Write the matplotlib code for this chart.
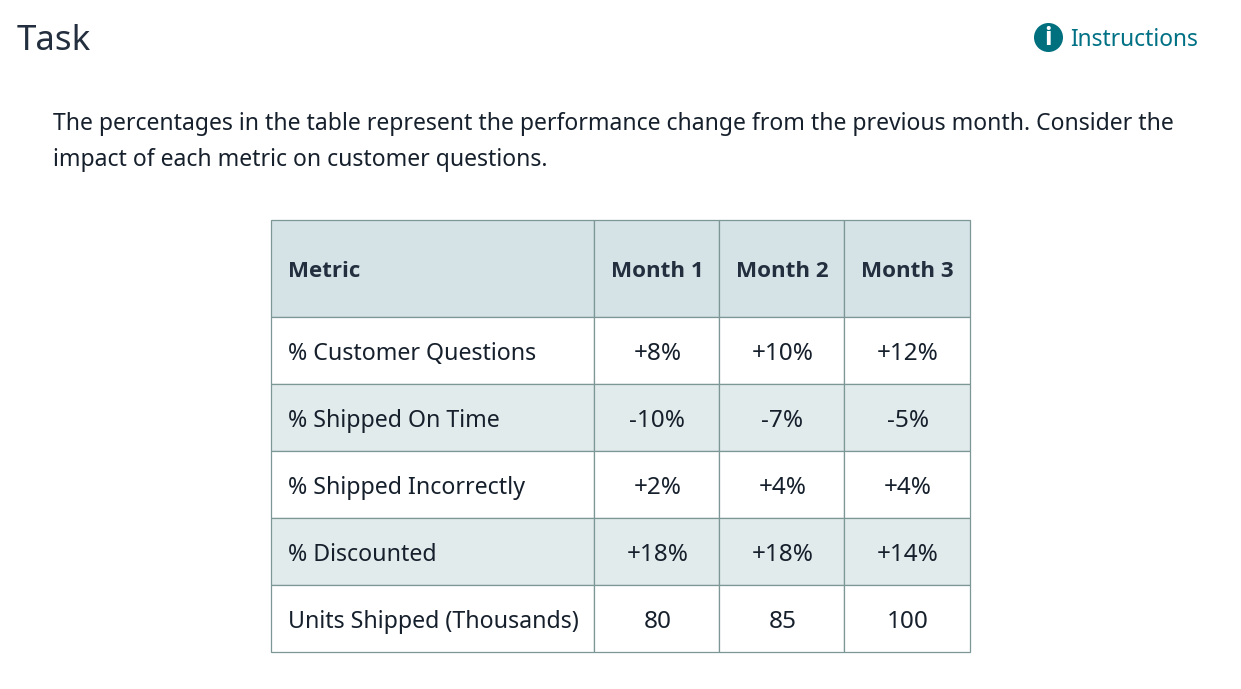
import matplotlib
matplotlib.use('Agg')
import matplotlib.pyplot as plt
from matplotlib.patches import Rectangle, Circle

plt.rcParams['font.family'] = ['Noto Sans', 'DejaVu Sans']

# data
columns = ['Metric', 'Month 1', 'Month 2', 'Month 3']
metrics = ['% Customer Questions', '% Shipped On Time', '% Shipped Incorrectly',
           '% Discounted', 'Units Shipped (Thousands)']
month1 = ['+8%', '-10%', '+2%', '+18%', '80']
month2 = ['+10%', '-7%', '+4%', '+18%', '85']
month3 = ['+12%', '-5%', '+4%', '+14%', '100']

title = 'Task'
link = 'Instructions'
intro1 = 'The percentages in the table represent the performance change from the previous month. Consider the'
intro2 = 'impact of each metric on customer questions.'

W, H = 1241, 689
fig = plt.figure(figsize=(W / 100, H / 100), dpi=100)
ax = fig.add_axes([0, 0, 1, 1])
ax.set_xlim(0, W)
ax.set_ylim(H, 0)
ax.axis('off')

dark = '#16202c'
navy = '#232f3e'
teal = '#007185'
edge = '#7d9696'

ax.text(17, 41, title, fontsize=25, color=navy, va='center')
ax.add_patch(Circle((1048.5, 37.5), 14.5, color='#00707f', lw=0))
ax.text(1048.5, 38.5, 'i', fontsize=18, color='white', ha='center', va='center', family='Open Sans', fontweight='bold')
ax.text(1070, 39.5, link, fontsize=16.4, color=teal, va='center')

ax.text(53, 124.5, intro1, fontsize=16.55, color=dark, va='center')
ax.text(53, 160.5, intro2, fontsize=16.55, color=dark, va='center')

# table grid
xs = [271, 594, 719, 844, 970]
ys = [220, 317, 384, 451, 518, 585, 652]
fills = ['#d5e3e7', 'white', '#e2ebec', 'white', '#e2ebec', 'white']

for r in range(6):
    for c in range(4):
        ax.add_patch(Rectangle((xs[c], ys[r]), xs[c + 1] - xs[c], ys[r + 1] - ys[r],
                               facecolor=fills[r], edgecolor=edge, lw=0.9))

# header row, bold comes from Open Sans here
ym = (ys[0] + ys[1]) / 2 + 3
ax.text(288, ym, columns[0], fontsize=16, color=navy, fontweight='bold', va='center', family='Open Sans')
for c in range(1, 4):
    ax.text((xs[c] + xs[c + 1]) / 2 + 0.5, ym, columns[c], fontsize=16.1, color=navy,
            fontweight='bold', ha='center', va='center', family='Open Sans')

rows = [[metrics[i], month1[i], month2[i], month3[i]] for i in range(5)]
for r, row in enumerate(rows):
    ym = (ys[r + 1] + ys[r + 2]) / 2 + 3.5
    ax.text(288, ym, row[0], fontsize=16.7, color=dark, va='center')
    for c in range(1, 4):
        ax.text((xs[c] + xs[c + 1]) / 2 + 1, ym, row[c], fontsize=17.5, color=dark,
                ha='center', va='center')

fig.savefig('out.png', dpi=100)
